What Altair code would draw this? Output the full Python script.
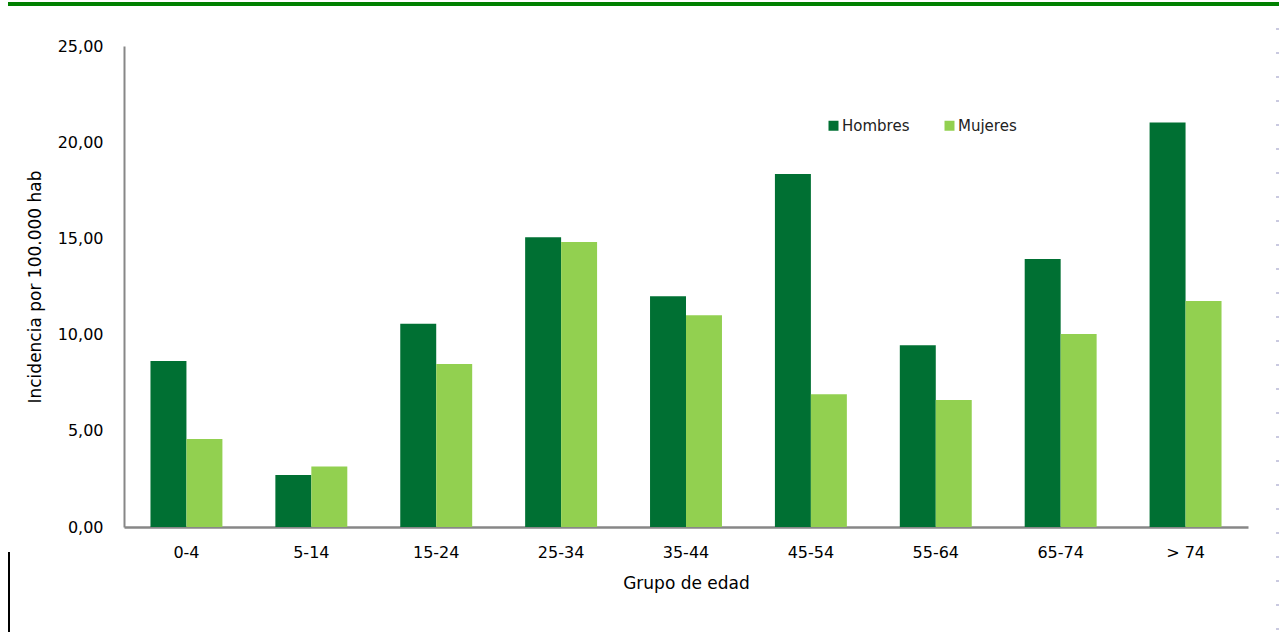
import altair as alt
import pandas as pd

# Incidence per 100,000 inhabitants by age group and sex
grupos = ["0-4", "5-14", "15-24", "25-34", "35-44", "45-54", "55-64", "65-74", "> 74"]
hombres = [8.63, 2.70, 10.57, 15.06, 11.99, 18.35, 9.44, 13.93, 21.03]
mujeres = [4.57, 3.15, 8.47, 14.81, 11.00, 6.90, 6.60, 10.03, 11.75]
sexos = ["Hombres", "Mujeres"]
colores = ["#007033", "#92D050"]
y_ticks = [0, 5, 10, 15, 20, 25]

rows = []
for g, h, m in zip(grupos, hombres, mujeres):
    rows.append({"grupo": g, "sexo": "Hombres", "valor": h})
    rows.append({"grupo": g, "sexo": "Mujeres", "valor": m})
df = pd.DataFrame(rows)

FONT = "DejaVu Sans"
W, H = 1124, 481

bars = alt.Chart(df).mark_bar().encode(
    x=alt.X(
        "grupo:N",
        sort=grupos,
        scale=alt.Scale(paddingInner=0.424, paddingOuter=0.212),
        axis=alt.Axis(
            title="Grupo de edad",
            labelAngle=0,
            ticks=False,
            labelPadding=17,
            titlePadding=15,
            titleFontSize=17,
            domainColor="#878787",
            domainWidth=2.5,
        ),
    ),
    xOffset=alt.XOffset("sexo:N", sort=sexos),
    y=alt.Y(
        "valor:Q",
        scale=alt.Scale(domain=[0, 25], nice=False),
        axis=alt.Axis(
            title="Incidencia por 100.000  hab",
            values=y_ticks,
            labelExpr="replace(format(datum.value, '.2f'), '.', ',')",
            grid=False,
            ticks=False,
            labelPadding=21,
            titlePadding=13,
            titleFontSize=17,
            domainColor="#878787",
            domainWidth=2,
        ),
    ),
    color=alt.Color(
        "sexo:N",
        scale=alt.Scale(domain=sexos, range=colores),
        legend=alt.Legend(
            title=None,
            orient="none",
            legendX=702,
            legendY=72,
            direction="horizontal",
            symbolType="square",
            symbolSize=100,
            symbolStrokeWidth=0,
            labelFont=FONT,
            labelFontSize=15,
            labelColor="#222222",
            labelOffset=1,
            columnPadding=32,
        ),
    ),
)

# Decorative page rules around the chart
top_band = alt.Chart(df).mark_rule(color="#008000", strokeWidth=4).encode(
    x=alt.value(-116), x2=alt.value(1155), y=alt.value(-42)
)
left_rule = alt.Chart(df).mark_rule(color="#000000", strokeWidth=1.5).encode(
    x=alt.value(-115), y=alt.value(506), y2=alt.value(586)
)
right_dots = alt.Chart(df).mark_rule(
    color="#c9c9e0", strokeWidth=2, strokeDash=[2, 22]
).encode(x=alt.value(1153.5), y=alt.value(-18), y2=alt.value(584))

chart = alt.layer(bars, top_band, left_rule, right_dots).properties(
    width=W,
    height=H,
    padding={"left": 124, "top": 46, "right": 31, "bottom": 107},
    autosize="none",
).configure_axis(
    labelFont=FONT,
    titleFont=FONT,
    labelFontSize=16,
    titleFontWeight="normal",
    labelColor="#000000",
    titleColor="#000000",
).configure_view(stroke=None)

chart.save("out.html", embed_options={"renderer": "svg", "actions": False})
